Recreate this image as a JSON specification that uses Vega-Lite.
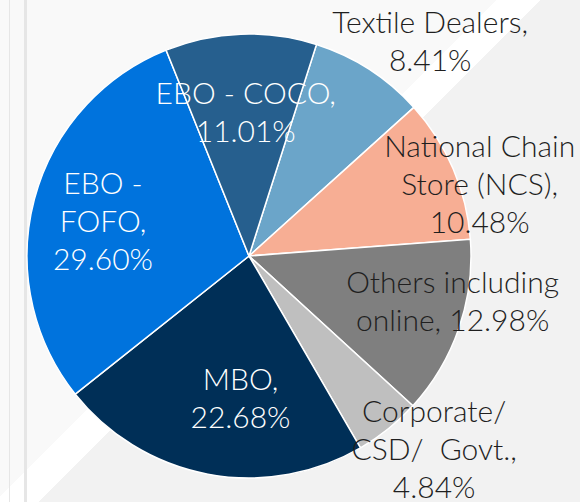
{
  "$schema": "https://vega.github.io/schema/vega-lite/v6.json",
  "width": 580,
  "height": 502,
  "autosize": {"type": "none"},
  "padding": 0,
  "background": "#f2f2f2",
  "config": {"view": {"stroke": null}},
  "datasets": {
    "shares": [
      {"cat": "Textile Dealers", "value": 8.41, "lines": ["Textile Dealers,", "8.41%"]},
      {"cat": "National Chain Store (NCS)", "value": 10.48, "lines": ["National Chain", "Store (NCS),", "10.48%"]},
      {"cat": "Others including online", "value": 12.98, "lines": ["Others including", "online, 12.98%"]},
      {"cat": "Corporate/ CSD/ Govt.", "value": 4.84, "lines": ["Corporate/", "CSD/\u00a0 Govt.,", "4.84%"]},
      {"cat": "MBO", "value": 22.68, "lines": ["MBO,", "22.68%"]},
      {"cat": "EBO - FOFO", "value": 29.60, "lines": ["EBO -", "FOFO,", "29.60%"]},
      {"cat": "EBO - COCO", "value": 11.01, "lines": ["EBO - COCO,", "11.01%"]}
    ]
  },
  "data": {"name": "shares"},
  "transform": [{"window": [{"op": "row_number", "as": "idx"}]}],
  "layer": [
    {
      "data": {"values": [{}]},
      "transform": [],
      "mark": {
        "type": "rect",
        "fill": {
          "gradient": "linear", "x1": 0, "y1": 0, "x2": 1, "y2": 0.8655,
          "stops": [
            {"offset": 0, "color": "#f9f9f9"},
            {"offset": 0.4899, "color": "#f9f9f9"},
            {"offset": 0.4899, "color": "#ffffff"},
            {"offset": 0.5323, "color": "#ffffff"},
            {"offset": 0.5323, "color": "#f2f2f2"},
            {"offset": 1, "color": "#f2f2f2"}
          ]
        }
      },
      "encoding": {"x": {"value": 0}, "x2": {"value": "width"}, "y": {"value": 0}, "y2": {"value": "height"}}
    },
    {
      "data": {"values": [{}]},
      "transform": [],
      "mark": {
        "type": "rect",
        "fill": {
          "gradient": "linear", "x1": 0, "y1": 0, "x2": 1, "y2": 0,
          "stops": [
            {"offset": 0, "color": "rgba(0,0,0,0)"},
            {"offset": 0.0147, "color": "rgba(0,0,0,0)"},
            {"offset": 0.0147, "color": "#e6e6e6"},
            {"offset": 0.0181, "color": "#e6e6e6"},
            {"offset": 0.0181, "color": "rgba(0,0,0,0)"},
            {"offset": 0.0414, "color": "rgba(0,0,0,0)"},
            {"offset": 0.0414, "color": "#e6e6e6"},
            {"offset": 0.0457, "color": "#e6e6e6"},
            {"offset": 0.0457, "color": "rgba(0,0,0,0)"},
            {"offset": 1, "color": "rgba(0,0,0,0)"}
          ]
        }
      },
      "encoding": {"x": {"value": 0}, "x2": {"value": "width"}, "y": {"value": 0}, "y2": {"value": "height"}}
    },
    {
      "mark": {"type": "arc", "outerRadius": 222, "stroke": "#ffffff", "strokeWidth": 1.5, "xOffset": -41, "yOffset": 5},
      "encoding": {
        "theta": {"field": "value", "type": "quantitative", "stack": true, "scale": {"range": [0.3089, 6.5921]}},
        "order": {"field": "idx", "type": "quantitative"},
        "color": {
          "field": "cat", "type": "nominal", "legend": null,
          "scale": {
            "domain": ["Textile Dealers", "National Chain Store (NCS)", "Others including online", "Corporate/ CSD/ Govt.", "MBO", "EBO - FOFO", "EBO - COCO"],
            "range": ["#6ba5c9", "#f7ae94", "#7f7f7f", "#bfbfbf", "#002f57", "#0073dd", "#265f8e"]
          }
        }
      }
    },
    {
      "mark": {"type": "text", "radius": 277, "dx": -10, "dy": 6, "font": "Lato", "fontWeight": 300, "fontSize": 30, "lineHeight": 38, "color": "#1f1f1f", "align": "center", "baseline": "middle"},
      "encoding": {
        "theta": {"field": "value", "type": "quantitative", "stack": true},
        "order": {"field": "idx", "type": "quantitative"},
        "detail": {"field": "cat", "type": "nominal"},
        "text": {"condition": {"test": "datum.cat === 'Textile Dealers'", "field": "lines", "type": "nominal"}, "value": ""}
      }
    },
    {
      "mark": {"type": "text", "radius": 142, "dx": -39, "dy": -14, "font": "Lato", "fontWeight": 300, "fontSize": 30, "lineHeight": 38, "color": "#ffffff", "align": "center", "baseline": "middle"},
      "encoding": {
        "theta": {"field": "value", "type": "quantitative", "stack": true},
        "order": {"field": "idx", "type": "quantitative"},
        "detail": {"field": "cat", "type": "nominal"},
        "text": {"condition": {"test": "datum.cat === 'EBO - COCO'", "field": "lines", "type": "nominal"}, "value": ""}
      }
    },
    {
      "mark": {"type": "text", "radius": 150, "dx": -42, "dy": -28, "font": "Lato", "fontWeight": 300, "fontSize": 30, "lineHeight": 38, "color": "#ffffff", "align": "center", "baseline": "middle"},
      "encoding": {
        "theta": {"field": "value", "type": "quantitative", "stack": true},
        "order": {"field": "idx", "type": "quantitative"},
        "detail": {"field": "cat", "type": "nominal"},
        "text": {"condition": {"test": "datum.cat === 'EBO - FOFO'", "field": "lines", "type": "nominal"}, "value": ""}
      }
    },
    {
      "mark": {"type": "text", "radius": 240, "dx": -31, "dy": -9, "font": "Lato", "fontWeight": 300, "fontSize": 30, "lineHeight": 38, "color": "#1f1f1f", "align": "center", "baseline": "middle"},
      "encoding": {
        "theta": {"field": "value", "type": "quantitative", "stack": true},
        "order": {"field": "idx", "type": "quantitative"},
        "detail": {"field": "cat", "type": "nominal"},
        "text": {"condition": {"test": "datum.cat === 'National Chain Store (NCS)'", "field": "lines", "type": "nominal"}, "value": ""}
      }
    },
    {
      "mark": {"type": "text", "radius": 208, "dx": -34, "dy": -35, "font": "Lato", "fontWeight": 300, "fontSize": 30, "lineHeight": 38, "color": "#1f1f1f", "align": "center", "baseline": "middle"},
      "encoding": {
        "theta": {"field": "value", "type": "quantitative", "stack": true},
        "order": {"field": "idx", "type": "quantitative"},
        "detail": {"field": "cat", "type": "nominal"},
        "text": {"condition": {"test": "datum.cat === 'Others including online'", "field": "lines", "type": "nominal"}, "value": ""}
      }
    },
    {
      "mark": {"type": "text", "radius": 268, "dx": -24, "dy": -47, "font": "Lato", "fontWeight": 300, "fontSize": 30, "lineHeight": 38, "color": "#1f1f1f", "align": "center", "baseline": "middle"},
      "encoding": {
        "theta": {"field": "value", "type": "quantitative", "stack": true},
        "order": {"field": "idx", "type": "quantitative"},
        "detail": {"field": "cat", "type": "nominal"},
        "text": {"condition": {"test": "datum.cat === 'Corporate/ CSD/ Govt.'", "field": "lines", "type": "nominal"}, "value": ""}
      }
    },
    {
      "mark": {"type": "text", "radius": 143, "dx": -23, "dy": -11, "font": "Lato", "fontWeight": 300, "fontSize": 30, "lineHeight": 38, "color": "#ffffff", "align": "center", "baseline": "middle"},
      "encoding": {
        "theta": {"field": "value", "type": "quantitative", "stack": true},
        "order": {"field": "idx", "type": "quantitative"},
        "detail": {"field": "cat", "type": "nominal"},
        "text": {"condition": {"test": "datum.cat === 'MBO'", "field": "lines", "type": "nominal"}, "value": ""}
      }
    }
  ]
}
